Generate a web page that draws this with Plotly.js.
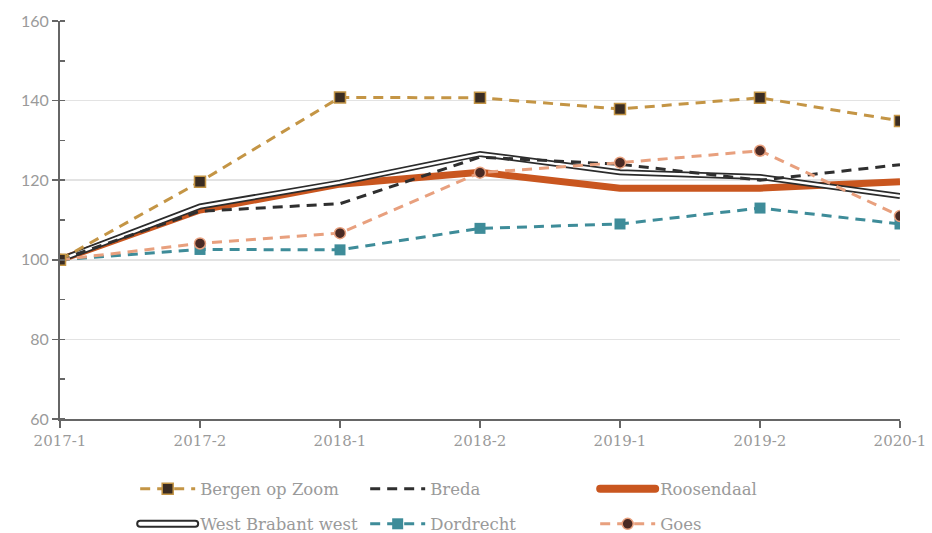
<!DOCTYPE html>
<html>
<head>
<meta charset="utf-8">
<script src="https://cdn.plot.ly/plotly-3.0.1.min.js"></script>
<style>html,body{margin:0;padding:0;background:#fff;}#chart{width:932px;height:533px;}</style>
</head>
<body>
<div id="chart"></div>
<script>
const periods = ["2017-1","2017-2","2018-1","2018-2","2019-1","2019-2","2020-1"];
const bergenOpZoom = [100, 119.6, 140.8, 140.7, 137.9, 140.7, 134.9];
const breda = [100, 112.2, 114.1, 125.8, 124.0, 120.0, 123.9];
const roosendaal = [100, 112.5, 119.0, 122.0, 118.0, 118.0, 119.6];
const westBrabantWest = [100, 113.4, 119.4, 126.6, 122.0, 120.8, 116.0];
const dordrecht = [100, 102.6, 102.5, 107.9, 109.0, 113.0, 109.0];
const goes = [100, 104.1, 106.7, 121.9, 124.4, 127.4, 111.0];

const traces = [
  {x: periods, y: roosendaal, name: "Roosendaal", mode: "lines", legend: "legend", legendrank: 3,
   line: {color: "#C9561F", width: 7}},
  {x: periods, y: westBrabantWest, name: "West Brabant west", mode: "lines", legend: "legend2", legendrank: 4,
   line: {color: "#2b2b2b", width: 6}},
  {x: periods, y: westBrabantWest, name: "West Brabant west", mode: "lines", showlegend: false, hoverinfo: "skip",
   line: {color: "#ffffff", width: 2.5}},
  {x: periods, y: breda, name: "Breda", mode: "lines", legend: "legend", legendrank: 2,
   line: {color: "#2f2f2f", width: 3, dash: "10px,7px"}},
  {x: periods, y: dordrecht, name: "Dordrecht", mode: "lines+markers", legend: "legend2", legendrank: 5,
   line: {color: "#3E8C99", width: 3, dash: "10px,7px"},
   marker: {symbol: "square", size: 11, color: "#3E8C99"}},
  {x: periods, y: goes, name: "Goes", mode: "lines+markers", legend: "legend2", legendrank: 6,
   line: {color: "#E8A07E", width: 3, dash: "10px,7px"},
   marker: {symbol: "circle", size: 11, color: "#4A2A24", line: {color: "#E8A07E", width: 1.5}}},
  {x: periods, y: bergenOpZoom, name: "Bergen op Zoom", mode: "lines+markers", legend: "legend", legendrank: 1,
   line: {color: "#C49545", width: 3, dash: "10px,7px"},
   marker: {symbol: "square", size: 11, color: "#3A2C22", line: {color: "#C49545", width: 1.5}}}
];

const legendFont = {family: "DejaVu Serif, serif", size: 16.5, color: "#9a9a9a"};
const layout = {
  width: 932, height: 533,
  margin: {l: 60, r: 32, t: 21, b: 114, autoexpand: false},
  paper_bgcolor: "#fff", plot_bgcolor: "#fff",
  showlegend: true,
  xaxis: {
    type: "category", range: [0, 6], showgrid: false,
    showline: true, linecolor: "#666", linewidth: 2,
    ticks: "outside", ticklen: 7, tickcolor: "#666", tickwidth: 1.5,
    tickfont: {family: "DejaVu Serif, serif", size: 15, color: "#9a9a9a"},
    zeroline: false, fixedrange: true
  },
  yaxis: {
    range: [60, 160], dtick: 20, showgrid: true, gridcolor: "#e3e3e3", gridwidth: 1.5,
    showline: true, linecolor: "#666", linewidth: 2,
    ticks: "outside", ticklen: 6, tickcolor: "#666", tickwidth: 1.5,
    minor: {dtick: 10, ticks: "inside", ticklen: 5, tickcolor: "#666", showgrid: false},
    tickfont: {family: "Lato, sans-serif", size: 16, color: "#9a9a9a"},
    zeroline: false, fixedrange: true
  },
  legend: {orientation: "h", x: 0.0895, xanchor: "left", y: -0.176, yanchor: "middle",
    entrywidth: 160, entrywidthmode: "pixels", itemwidth: 55, font: legendFont, bgcolor: "rgba(0,0,0,0)",
    traceorder: "normal"},
  legend2: {orientation: "h", x: 0.0895, xanchor: "left", y: -0.264, yanchor: "middle",
    entrywidth: 160, entrywidthmode: "pixels", itemwidth: 55, font: legendFont, bgcolor: "rgba(0,0,0,0)",
    traceorder: "normal"}
};

Plotly.newPlot("chart", traces, layout, {displayModeBar: false, staticPlot: true}).then(function (gd) {
  // draw the double-line legend symbol for West Brabant west
  gd.querySelectorAll(".traces").forEach(function (g) {
    const t = g.querySelector("text");
    if (!t || t.textContent !== "West Brabant west" || g.dataset.dbl) return;
    g.dataset.dbl = "1";
    const p = g.querySelector(".legendlines path");
    if (!p) return;
    p.style.strokeWidth = "8px";
    p.style.strokeLinecap = "round";
    const c = p.cloneNode(true);
    c.style.stroke = "#ffffff";
    c.style.strokeWidth = "4px";
    p.parentNode.appendChild(c);
  });
  gd.querySelectorAll(".traces").forEach(function (g) {
    const t = g.querySelector("text");
    if (t && t.textContent === "Roosendaal") {
      const p = g.querySelector(".legendlines path");
      if (p) { p.style.strokeWidth = "8px"; p.style.strokeLinecap = "round"; }
    }
  });
});
</script>
</body>
</html>
